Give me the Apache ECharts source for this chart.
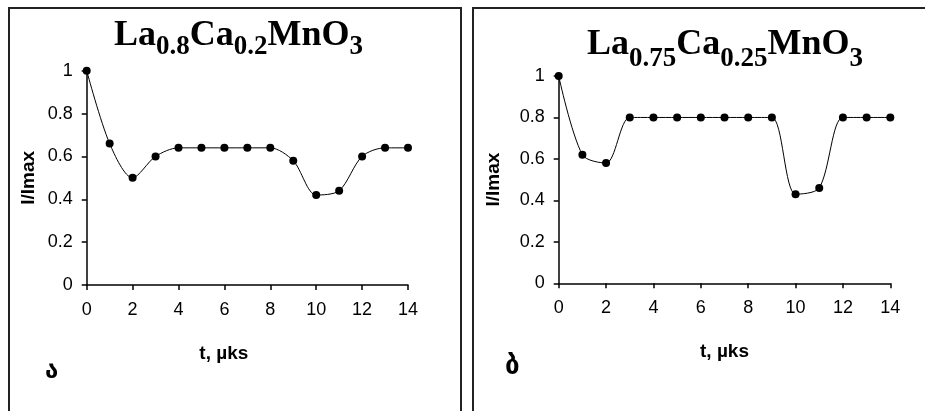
<!DOCTYPE html>
<html>
<head>
<meta charset="utf-8">
<script src="https://cdn.jsdelivr.net/npm/echarts@6/dist/echarts.min.js"></script>
<style>html,body{margin:0;padding:0;background:#fff}#c{width:925px;height:411px}</style>
</head>
<body>
<div id="c"></div>
<script>
// Data
const tValues = [0, 1, 2, 3, 4, 5, 6, 7, 8, 9, 10, 11, 12, 13, 14];
const seriesA = [1.0, 0.66, 0.50, 0.60, 0.64, 0.64, 0.64, 0.64, 0.64, 0.58, 0.42, 0.44, 0.60, 0.64, 0.64];
const seriesB = [1.0, 0.62, 0.58, 0.80, 0.80, 0.80, 0.80, 0.80, 0.80, 0.80, 0.43, 0.46, 0.80, 0.80, 0.80];
const titleA = '{b|La}{s|0.8}{b|Ca}{s|0.2}{b|MnO}{s|3}';
const titleB = '{b|La}{s|0.75}{b|Ca}{s|0.25}{b|MnO}{s|3}';
const xName = 't, µks';
const yName = 'I/Imax';
const panelLetters = ['ა', 'ბ'];

const chart = echarts.init(document.getElementById('c'));
const serif = 'Liberation Serif, Times New Roman, serif';
const sans = 'Liberation Sans, Arial, sans-serif';

function titleRich(p) {
  return {
    b: {fontFamily: serif, fontWeight: 'bold', fontSize: 36, color: '#000', lineHeight: 36, verticalAlign: 'top'},
    s: {fontFamily: serif, fontWeight: 'bold', fontSize: 27, color: '#000', lineHeight: 27, verticalAlign: 'top', padding: [p, 0, 0, 0]}
  };
}

function xAxisCfg(idx, namePad) {
  return {
    type: 'value', gridIndex: idx, min: 0, max: 14, interval: 2,
    name: xName, nameLocation: 'middle', nameGap: 59,
    nameTextStyle: {fontFamily: sans, fontWeight: 'bold', fontSize: 19, color: '#000', padding: namePad},
    axisLine: {show: true, onZero: false, lineStyle: {color: '#000', width: 1.5}},
    axisTick: {show: true, inside: false, length: 5, lineStyle: {color: '#000', width: 1.5}},
    axisLabel: {fontFamily: sans, fontSize: 18, color: '#000', margin: 16},
    splitLine: {show: false}
  };
}
function yAxisCfg(idx, gap) {
  return {
    type: 'value', gridIndex: idx, min: 0, max: 1, interval: 0.2,
    name: yName, nameLocation: 'middle', nameGap: gap,
    nameTextStyle: {fontFamily: sans, fontWeight: 'bold', fontSize: 19, color: '#000'},
    axisLine: {show: true, lineStyle: {color: '#000', width: 1.5}},
    axisTick: {show: true, inside: false, length: 5, lineStyle: {color: '#000', width: 1.5}},
    axisLabel: {fontFamily: sans, fontSize: 18, color: '#000', margin: 14},
    splitLine: {show: false}
  };
}
function lineSeries(idx, vals) {
  return {
    type: 'line', xAxisIndex: idx, yAxisIndex: idx,
    data: tValues.map((t, i) => [t, vals[i]]),
    smooth: 0.3,
    symbol: 'circle', symbolSize: 8,
    itemStyle: {color: '#000'},
    lineStyle: {color: '#000', width: 1},
    animation: false
  };
}

chart.setOption({
  backgroundColor: '#fff',
  animation: false,
  title: [
    {text: titleA, left: 114, top: 18, padding: 0, textStyle: {rich: titleRich(16)}},
    {text: titleB, left: 587, top: 27, padding: 0, textStyle: {rich: titleRich(19)}}
  ],
  grid: [
    {left: 86.7, right: 517, top: 70.7, bottom: 126, containLabel: false},
    {left: 558.7, right: 34.7, top: 76, bottom: 127.7, containLabel: false}
  ],
  xAxis: [xAxisCfg(0, [0, 47, 0, 0]), xAxisCfg(1, 0)],
  yAxis: [yAxisCfg(0, 48), yAxisCfg(1, 55)],
  series: [lineSeries(0, seriesA), lineSeries(1, seriesB)],
  graphic: [
    {type: 'polyline', silent: true, shape: {points: [[9, 411], [9, 8], [461, 8], [461, 411]]}, style: {stroke: '#222', lineWidth: 2, fill: null}},
    {type: 'polyline', silent: true, shape: {points: [[473, 411], [473, 8], [925, 8]]}, style: {stroke: '#222', lineWidth: 2, fill: null}},
    {type: 'text', silent: true, left: 45, top: 360, style: {text: panelLetters[0], font: 'bold 24px DejaVu Sans', fill: '#000'}},
    {type: 'text', silent: true, left: 505, top: 354, style: {text: panelLetters[1], font: 'bold 26px DejaVu Sans', fill: '#000'}}
  ]
});
</script>
</body>
</html>
